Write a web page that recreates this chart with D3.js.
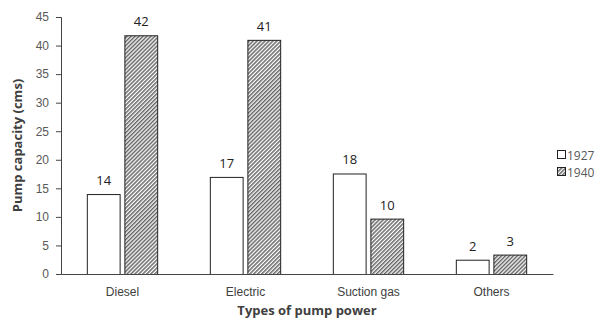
<!DOCTYPE html>
<html><head><meta charset="utf-8">
<script src="https://cdn.jsdelivr.net/npm/d3@7"></script>
<style>body{margin:0;background:#fff;}svg{display:block;font-family:"Open Sans",sans-serif;}</style>
</head><body>
<svg id="c" width="603" height="320"></svg>
<script>
const categories = ["Diesel", "Electric", "Suction gas", "Others"];
const series = ["1927", "1940"];
const values1927 = [14, 17, 17.6, 2.5];
const values1940 = [41.8, 41, 9.7, 3.4];
const labels1927 = ["14", "17", "18", "2"];
const labels1940 = ["42", "41", "10", "3"];
const yTicks = [0, 5, 10, 15, 20, 25, 30, 35, 40, 45];

const svg = d3.select("#c");
const defs = svg.append("defs");
const pat = defs.append("pattern").attr("id","hatch").attr("patternUnits","userSpaceOnUse")
  .attr("width",2.8).attr("height",2.8).attr("patternTransform","rotate(45)");
pat.append("rect").attr("width",2.8).attr("height",2.8).attr("fill","#fff");
pat.append("rect").attr("width",1.5).attr("height",2.8).attr("fill","#666");

const m = {l:61, r:50, t:17, b:46};
const W = 603, H = 320;
const x0 = d3.scaleBand().domain(categories).range([m.l, W - m.r]).paddingInner(0.42).paddingOuter(0.21);
const x1 = d3.scaleBand().domain(series).range([0, x0.bandwidth()]).paddingInner(0.1);
const y = d3.scaleLinear().domain([0,45]).range([H - m.b, m.t]);

const grey = "#595959";
// y axis
const ya = svg.append("g").attr("transform",`translate(${m.l},0)`)
  .call(d3.axisLeft(y).tickValues(yTicks).tickSize(5).tickPadding(7));
ya.select(".domain").attr("stroke","#444");
ya.selectAll(".tick line").attr("stroke","#444");
ya.selectAll("text").attr("fill",grey).style("font-size","12px");

const data = categories.map((c,i)=>({c, v:[values1927[i], values1940[i]], l:[labels1927[i], labels1940[i]]}));
const g = svg.append("g");
data.forEach(d=>{
  series.forEach((s,j)=>{
    const bx = x0(d.c) + x1(s);
    g.append("rect").attr("x",bx+0.5).attr("y",y(d.v[j])+0.5)
      .attr("width",x1.bandwidth()-1).attr("height",y(0)-y(d.v[j]))
      .attr("fill", j===0 ? "#fff" : "url(#hatch)")
      .attr("stroke","#222").attr("stroke-width",1);
    g.append("text").attr("x",bx + x1.bandwidth()/2).attr("y",y(d.v[j]) - 9)
      .attr("text-anchor","middle").attr("fill","#222").style("font-size","13px").text(d.l[j]);
  });
});

// x axis
const xa = svg.append("g").attr("transform",`translate(0,${y(0)})`)
  .call(d3.axisBottom(x0).tickSize(0).tickPadding(13));
xa.select(".domain").attr("stroke","#444");
xa.selectAll("text").attr("fill","#404040").style("font-size","12px");

svg.append("text").attr("x",(m.l + W - m.r)/2).attr("y",315)
  .attr("text-anchor","middle").attr("fill","#404040").style("font-size","13px").style("font-weight","bold")
  .text("Types of pump power");
svg.append("text").attr("transform",`translate(22,${(m.t + H - m.b)/2}) rotate(-90)`)
  .attr("text-anchor","middle").attr("fill","#404040").style("font-size","13px").style("font-weight","bold")
  .text("Pump capacity (cms)");

// legend
const lg = svg.append("g");
series.forEach((s,j)=>{
  const cy = 155 + j*17;
  lg.append("rect").attr("x",557.5).attr("y",cy-4.5).attr("width",8).attr("height",8)
    .attr("fill", j===0 ? "#fff" : "url(#hatch)").attr("stroke","#222").attr("stroke-width",1);
  lg.append("text").attr("x",567).attr("y",cy+4.5).attr("fill",grey).style("font-size","12px").text(s);
});
</script>
</body></html>
